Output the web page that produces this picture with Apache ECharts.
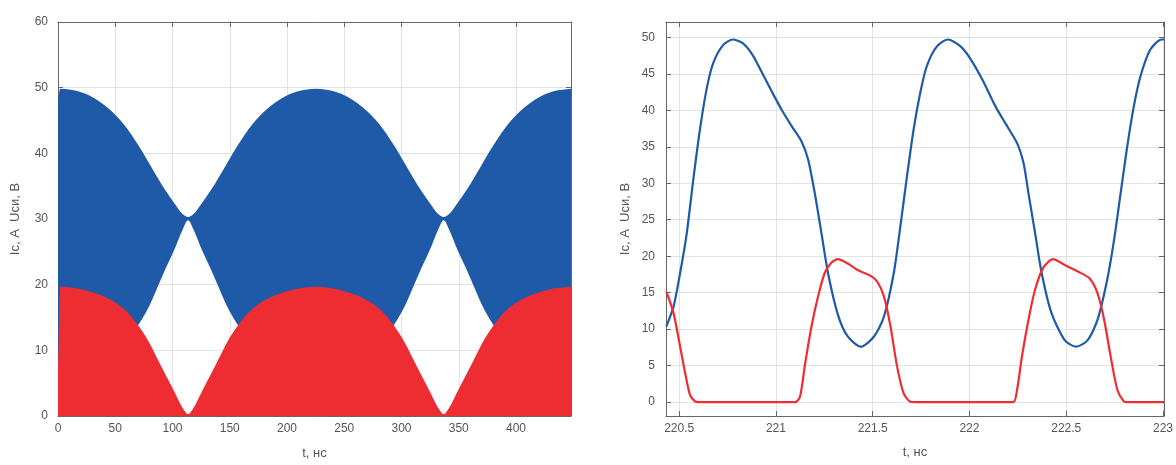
<!DOCTYPE html>
<html>
<head>
<meta charset="utf-8">
<script src="https://cdn.jsdelivr.net/npm/echarts@6/dist/echarts.min.js"></script>
<style>
html,body{margin:0;padding:0;background:#fff;}
#chart{width:1176px;height:465px;}
</style>
</head>
<body>
<div id="chart"></div>
<script>
// ---------- Left panel: envelopes of the fast oscillation ----------
const tEnv   = [0, 2.0, 17.6, 30.6, 43.6, 57.6, 69.6, 79.6, 86.6, 93.6, 101.6, 108.6, 113.6, 118.6, 125.6, 133.6, 140.6, 147.6, 157.6, 169.6, 183.6, 196.6, 209.6, 225.2, 240.8, 253.8, 266.8, 280.8, 292.8, 302.8, 309.8, 316.8, 324.8, 331.8, 336.8, 341.8, 348.8, 356.8, 363.8, 370.8, 380.8, 392.8, 406.8, 419.8, 432.8, 448];
const uUpper = [48.3, 49.85, 49.45, 48.5, 46.9, 44.4, 41.4, 38.5, 36.4, 34.4, 32.4, 30.8, 30.3, 30.8, 32.4, 34.4, 36.4, 38.5, 41.4, 44.4, 46.9, 48.5, 49.45, 49.85, 49.45, 48.5, 46.9, 44.4, 41.4, 38.5, 36.4, 34.4, 32.4, 30.8, 30.3, 30.8, 32.4, 34.4, 36.4, 38.5, 41.4, 44.4, 46.9, 48.5, 49.45, 49.85];
const uLower = [7.6, 7.6, 7.7, 8.0, 9.0, 11.0, 13.7, 16.7, 19.5, 22.3, 25.3, 28.3, 29.8, 28.3, 25.3, 22.3, 19.5, 16.7, 13.7, 11.0, 9.0, 8.0, 7.7, 7.6, 7.7, 8.0, 9.0, 11.0, 13.7, 16.7, 19.5, 22.3, 25.3, 28.3, 29.8, 28.3, 25.3, 22.3, 19.5, 16.7, 13.7, 11.0, 9.0, 8.0, 7.7, 7.6];
const iUpper = [6.0, 19.7, 19.4, 18.8, 17.9, 16.3, 13.9, 11.2, 8.8, 6.4, 3.7, 1.3, 0.3, 1.3, 3.7, 6.4, 8.8, 11.2, 13.9, 16.3, 17.9, 18.8, 19.4, 19.7, 19.4, 18.8, 17.9, 16.3, 13.9, 11.2, 8.8, 6.4, 3.7, 1.3, 0.3, 1.3, 3.7, 6.4, 8.8, 11.2, 13.9, 16.3, 17.9, 18.8, 19.4, 19.7];

// ---------- Right panel: zoomed waveforms ----------
const tU = [220.434, 220.471, 220.505, 220.539, 220.573, 220.607, 220.641, 220.675, 220.726, 220.777, 220.828, 220.879, 220.929, 220.980, 221.031, 221.082, 221.133, 221.167, 221.201, 221.235, 221.269, 221.320, 221.371, 221.439, 221.507, 221.558, 221.609, 221.643, 221.677, 221.711, 221.745, 221.779, 221.830, 221.889, 221.948, 221.999, 222.067, 222.135, 222.186, 222.246, 222.280, 222.305, 222.339, 222.373, 222.424, 222.492, 222.551, 222.611, 222.662, 222.712, 222.747, 222.781, 222.815, 222.849, 222.883, 222.934, 222.993, 223.005];
const vU = [10.4, 13.1, 17.7, 23.1, 30.5, 37.3, 42.8, 46.4, 48.9, 49.7, 49.2, 47.6, 45.1, 42.5, 40.0, 37.8, 35.7, 33.2, 28.6, 23.2, 17.7, 12.0, 9.0, 7.6, 9.0, 11.7, 17.7, 24.1, 30.9, 37.3, 42.3, 46.0, 48.7, 49.7, 48.9, 47.3, 44.2, 40.5, 38.2, 35.5, 32.7, 28.6, 23.2, 17.7, 12.2, 8.5, 7.6, 8.5, 11.3, 16.8, 22.2, 28.6, 35.0, 40.5, 44.6, 48.3, 49.7, 49.7];
const tI = [220.434, 220.471, 220.505, 220.531, 220.556, 220.582, 220.600, 221.100, 221.125, 221.151, 221.184, 221.218, 221.252, 221.286, 221.320, 221.371, 221.422, 221.490, 221.524, 221.558, 221.592, 221.626, 221.660, 221.694, 221.720, 222.225, 222.246, 222.271, 222.305, 222.339, 222.381, 222.432, 222.492, 222.560, 222.619, 222.662, 222.696, 222.730, 222.764, 222.798, 222.820, 223.005];
const vI = [15.15, 12.2, 7.6, 4.0, 1.0, 0.1, 0, 0, 0.8, 5.3, 10.4, 14.5, 17.7, 19.1, 19.6, 19.0, 18.1, 17.3, 16.5, 14.5, 10.4, 4.9, 1.2, 0.05, 0, 0, 1.7, 6.2, 11.3, 15.4, 18.4, 19.6, 18.8, 17.9, 17.0, 14.9, 11.3, 6.2, 1.7, 0.1, 0, 0];

const leftXTicks = [0, 50, 100, 150, 200, 250, 300, 350, 400];
const rightXTicks = [220.5, 221, 221.5, 222, 222.5, 223];
const rightYTicks = [0, 5, 10, 15, 20, 25, 30, 35, 40, 45, 50];
const xName = 't, нс';
const yName = 'Ic, A  Uси, В';

const BLUE = '#1e5aa8';
const RED = '#ee2d32';
const FONT = "'Liberation Sans', Arial, sans-serif";
const zip = (a, b) => a.map((x, i) => [x, b[i]]);

const axisLine = {show: true, onZero: false, lineStyle: {color: '#666', width: 1}};
const tick = {show: true, inside: true, length: 5, lineStyle: {color: '#666'}};
const split = {show: true, lineStyle: {color: '#e3e3e3', width: 1}};
const lbl = {color: '#555', fontSize: 12, fontFamily: FONT};
const nameStyle = {color: '#555', fontSize: 13, fontFamily: FONT};

// Fritsch-Carlson limited cubic Hermite (render-time smoothing of the pixel polyline)
function slopes(p) {
  const n = p.length, m = new Array(n), s = [];
  for (let k = 0; k < n - 1; k++) s.push((p[k + 1][1] - p[k][1]) / (p[k + 1][0] - p[k][0]));
  m[0] = s[0]; m[n - 1] = s[n - 2];
  for (let k = 1; k < n - 1; k++) {
    const h0 = p[k][0] - p[k - 1][0], h1 = p[k + 1][0] - p[k][0];
    const s0 = s[k - 1], s1 = s[k];
    if (s0 * s1 <= 0) { m[k] = 0; continue; }
    const pp = (s0 * h1 + s1 * h0) / (h0 + h1);
    m[k] = Math.sign(pp) * Math.min(Math.abs(pp), 3 * Math.min(Math.abs(s0), Math.abs(s1)));
  }
  return m;
}
function segs(p) {
  const m = slopes(p), out = [];
  for (let k = 0; k < p.length - 1; k++) {
    const dx = (p[k + 1][0] - p[k][0]) / 3;
    out.push([p[k], [p[k][0] + dx, p[k][1] + m[k] * dx], [p[k + 1][0] - dx, p[k + 1][1] - m[k + 1] * dx], p[k + 1]]);
  }
  return out;
}
const f = v => v.toFixed(2);
const P = p => f(p[0]) + ' ' + f(p[1]);
function forward(pts) {
  let d = '';
  segs(pts).forEach(s => { d += 'C' + P(s[1]) + ' ' + P(s[2]) + ' ' + P(s[3]); });
  return d;
}
function backward(pts) {
  const ss = segs(pts);
  let d = '';
  for (let k = ss.length - 1; k >= 0; k--) d += 'C' + P(ss[k][2]) + ' ' + P(ss[k][1]) + ' ' + P(ss[k][0]);
  return d;
}
function bandRender(params, api) {
  if (params.dataIndex !== 0) return null;
  const up = tEnv.map((t, i) => api.coord([t, uUpper[i]]));
  const lo = tEnv.map((t, i) => api.coord([t, uLower[i]]));
  const d = 'M' + P(up[0]) + forward(up) + 'L' + P(lo[lo.length - 1]) + backward(lo) + 'Z';
  return {type: 'path', shape: {pathData: d}, style: {fill: BLUE}};
}
function redRender(params, api) {
  if (params.dataIndex !== 0) return null;
  const top = tEnv.map((t, i) => api.coord([t, iUpper[i]]));
  const b1 = api.coord([tEnv[tEnv.length - 1], 0]), b0 = api.coord([tEnv[0], 0]);
  const d = 'M' + P(top[0]) + forward(top) + 'L' + P(b1) + 'L' + P(b0) + 'Z';
  return {type: 'path', shape: {pathData: d}, style: {fill: RED}};
}

const option = {
  animation: false,
  backgroundColor: '#fff',
  grid: [
    {left: 58, right: 605, top: 22, bottom: 43, containLabel: false},
    {left: 666, right: 6, top: 22, bottom: 49, containLabel: false}
  ],
  xAxis: [
    {gridIndex: 0, type: 'value', position: 'bottom', min: 0, max: 448,
     axisLine, axisTick: Object.assign({customValues: leftXTicks}, tick), splitLine: split,
     axisLabel: Object.assign({margin: 7, customValues: leftXTicks}, lbl),
     name: xName, nameLocation: 'middle', nameGap: 31, nameTextStyle: nameStyle},
    {gridIndex: 0, type: 'value', position: 'top', min: 0, max: 448,
     axisLine, axisTick: Object.assign({customValues: leftXTicks}, tick), splitLine: {show: false}, axisLabel: {show: false}},
    {gridIndex: 1, type: 'value', position: 'bottom', min: 220.432, max: 223.005,
     axisLine, axisTick: Object.assign({customValues: rightXTicks}, tick), splitLine: split,
     axisLabel: Object.assign({margin: 7, customValues: rightXTicks}, lbl),
     name: xName, nameLocation: 'middle', nameGap: 30, nameTextStyle: nameStyle},
    {gridIndex: 1, type: 'value', position: 'top', min: 220.432, max: 223.005,
     axisLine, axisTick: Object.assign({customValues: rightXTicks}, tick), splitLine: {show: false}, axisLabel: {show: false}}
  ],
  yAxis: [
    {gridIndex: 0, type: 'value', position: 'left', min: 0, max: 60, interval: 10,
     axisLine, axisTick: tick, splitLine: split,
     axisLabel: Object.assign({margin: 10}, lbl),
     name: yName, nameLocation: 'middle', nameGap: 36, nameTextStyle: nameStyle},
    {gridIndex: 0, type: 'value', position: 'right', min: 0, max: 60, interval: 10,
     axisLine, axisTick: tick, splitLine: {show: false}, axisLabel: {show: false}},
    {gridIndex: 1, type: 'value', position: 'left', min: -1.9, max: 52.1,
     axisLine, axisTick: Object.assign({customValues: rightYTicks}, tick), splitLine: split,
     axisLabel: Object.assign({margin: 11, customValues: rightYTicks}, lbl),
     name: yName, nameLocation: 'middle', nameGap: 34, nameTextStyle: nameStyle},
    {gridIndex: 1, type: 'value', position: 'right', min: -1.9, max: 52.1,
     axisLine, axisTick: Object.assign({customValues: rightYTicks}, tick), splitLine: {show: false}, axisLabel: {show: false}}
  ],
  series: [
    {type: 'custom', xAxisIndex: 0, yAxisIndex: 0, clip: true, silent: true, z: 2,
     data: tEnv.map((t, i) => [t, uLower[i], uUpper[i]]),
     encode: {x: 0, y: [1, 2]},
     renderItem: bandRender},
    {type: 'custom', xAxisIndex: 0, yAxisIndex: 0, clip: true, silent: true, z: 3,
     data: zip(tEnv, iUpper),
     encode: {x: 0, y: 1},
     renderItem: redRender},
    {type: 'line', xAxisIndex: 2, yAxisIndex: 2, data: zip(tU, vU), smooth: 0.25,
     showSymbol: false, symbol: 'none', lineStyle: {width: 2.2, color: BLUE}, silent: true, z: 3},
    {type: 'line', xAxisIndex: 2, yAxisIndex: 2, data: zip(tI, vI), smooth: 0.25,
     showSymbol: false, symbol: 'none', lineStyle: {width: 2.2, color: RED}, silent: true, z: 4}
  ]
};

const chart = echarts.init(document.getElementById('chart'), null, {renderer: 'canvas'});
chart.setOption(option);
</script>
</body>
</html>
